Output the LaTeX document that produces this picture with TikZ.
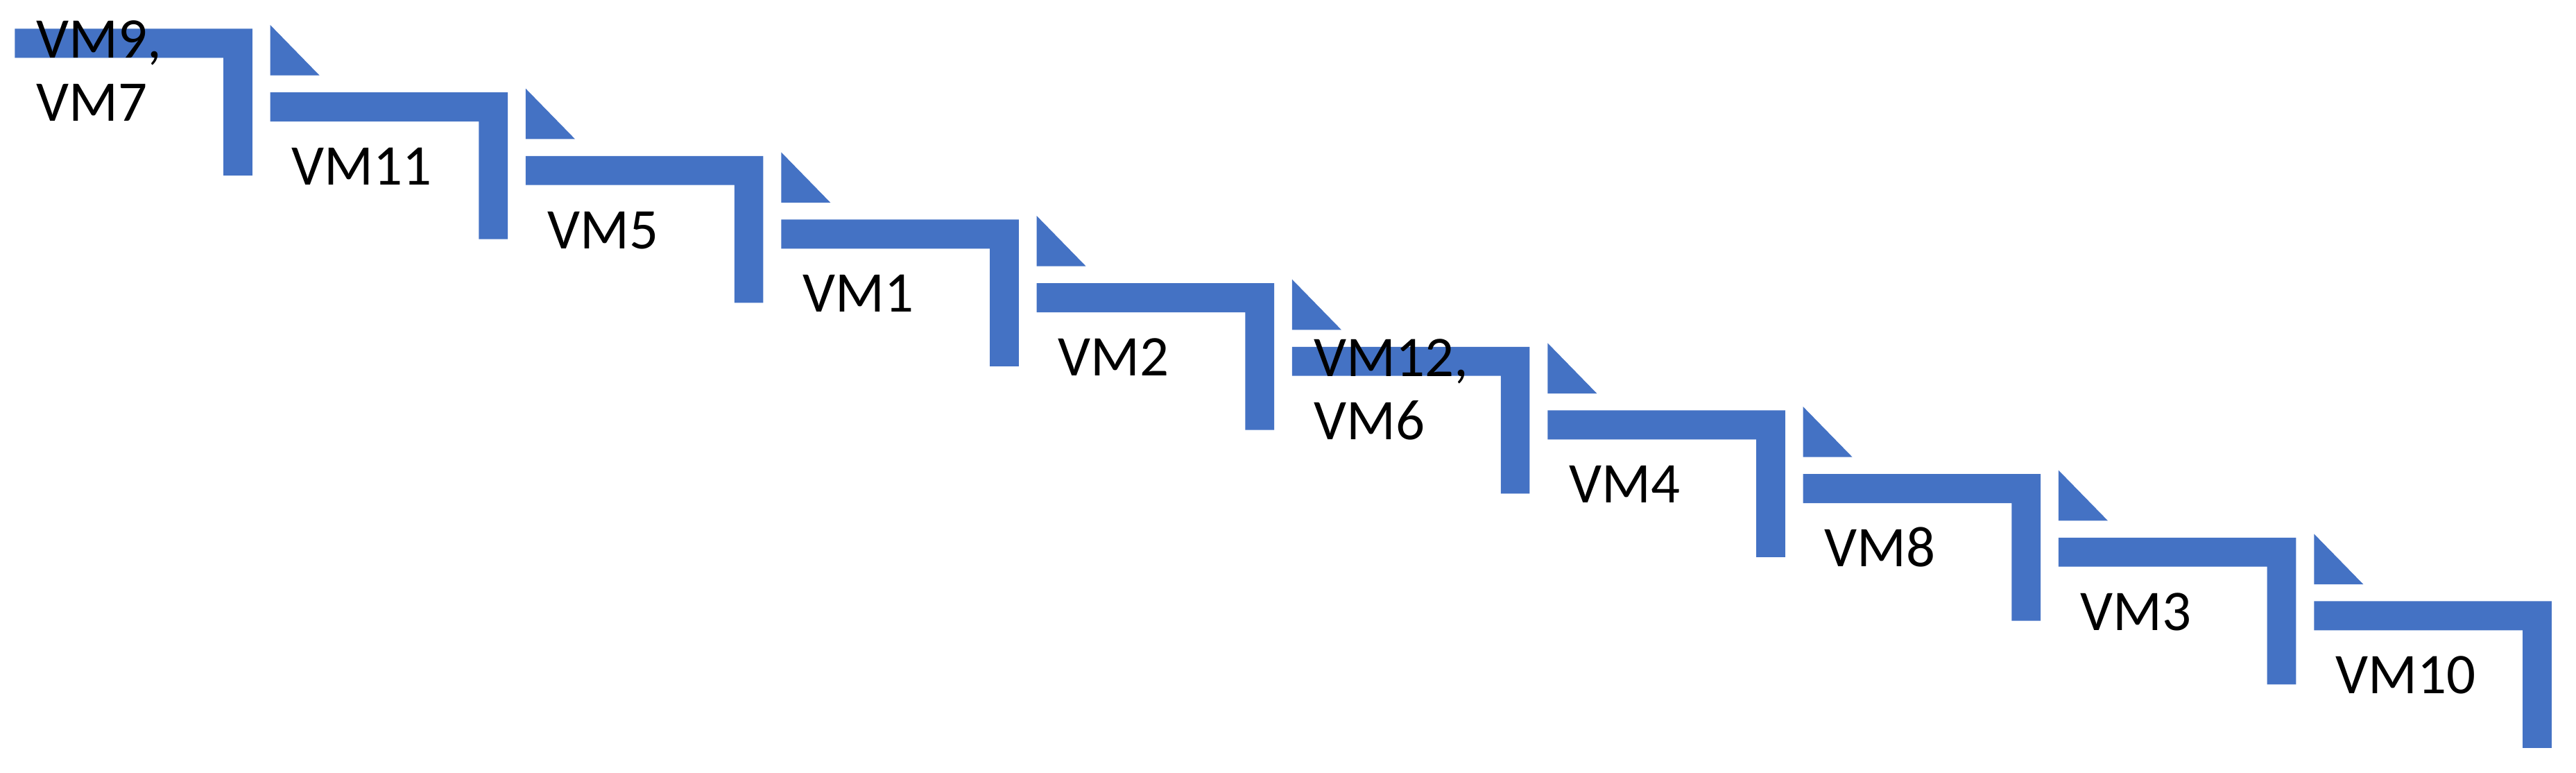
\documentclass[tikz,border=0pt]{standalone}
\usepackage{fontspec}
\setmainfont{Carlito}
\definecolor{bl}{HTML}{4472C4}
\begin{document}
\begin{tikzpicture}[x=1pt,y=-1pt,
  stair/.style={fill=bl},
  lab/.style={inner sep=0pt,anchor=base west,align=left,font=\fontsize{35}{38.4}\selectfont}]
\useasboundingbox (0,0) rectangle (1568,470);
\foreach \i/\t in {0/{VM9,\\VM7},1/VM11,2/VM5,3/VM1,4/VM2,5/{VM12,\\VM6},6/VM4,7/VM8,8/VM3,9/VM10}{
  \pgfmathsetmacro\X{9+155.5*\i}
  \pgfmathsetmacro\Y{17.5+38.7*\i}
  \fill[stair] (\X,\Y) -- ++(144.6,0) -- ++(0,89.3) -- ++(-17.6,0) -- ++(0,-71.6) -- ++(-127,0) -- cycle;
  \node[lab] (l\i) at (\X+13,\Y+56.3) {\t};
  \ifnum\i>0
    \fill[stair] (\X,\Y-41) -- (\X,\Y-10.3) -- (\X+30,\Y-10.3) -- cycle;
  \fi
}
\end{tikzpicture}
\end{document}
